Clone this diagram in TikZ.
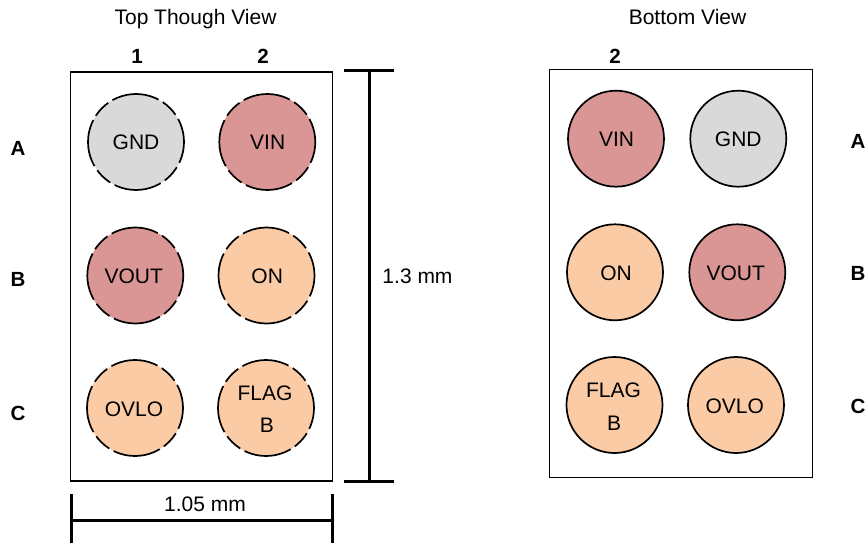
\documentclass[tikz,border=0pt]{standalone}
\usepackage{fontspec}
\setmainfont{Liberation Sans}
\definecolor{pinred}{HTML}{D99694}
\definecolor{pinorange}{HTML}{FACBA5}
\definecolor{pingray}{HTML}{D9D9D9}
% text inside a pin: centre offset dx, baseline offset dy (pt) from the pin centre
\newcommand{\pintxt}[3]{\raisebox{#2pt}[0pt][0pt]{\makebox[0pt]{\hspace{#1pt}\hspace{#1pt}#3}}}
\tikzset{
  x=1pt,y=-1pt,
  pkg/.style={draw=black,line width=1.4pt,fill=white},
  pinbase/.style={circle,draw=black,line width=1.7pt,minimum size=96pt,inner sep=0pt,font=\fontsize{21}{24}\selectfont},
  toppin/.style={pinbase,dash pattern=on 48pt off 5pt on 18pt off 5pt,dash phase=24pt},
  botpin/.style={pinbase},
  redpin/.style={fill=pinred},
  orangepin/.style={fill=pinorange},
  graypin/.style={fill=pingray},
  lbl/.style={inner sep=0pt,anchor=base,font=\fontsize{21}{24}\selectfont},
  blbl/.style={inner sep=0pt,anchor=base,font=\fontsize{20.5}{24}\selectfont\bfseries},
  dimline/.style={draw=black,line width=3pt},
}
\begin{document}
\begin{tikzpicture}
\useasboundingbox (0,0) rectangle (868,543);
% packages
\node[pkg,minimum width=262pt,minimum height=409pt,inner sep=0pt] (topbox) at (201.5,276.5) {};
\node[pkg,minimum width=262.6pt,minimum height=408.2pt,inner sep=0pt] (botbox) at (681,273.4) {};
% top view pins
\node[toppin,graypin] (t1) at (136,142) {\pintxt{0}{-8}{GND}};
\node[toppin,redpin] (t2) at (267.3,142) {\pintxt{0.4}{-8}{VIN}};
\node[toppin,redpin] (t3) at (135.3,275.5) {\pintxt{-1.6}{-8}{VOUT}};
\node[toppin,orangepin] (t4) at (266.5,275.5) {\pintxt{0.7}{-8}{ON}};
\node[toppin,orangepin] (t5) at (135,408) {\pintxt{-1}{-8}{OVLO}};
\node[toppin,orangepin] (t6) at (266,408) {\pintxt{-1}{8}{FLAG}};
\node[lbl] (t6b) at (267,432.7) {B};
% bottom view pins
\node[botpin,redpin] (b1) at (616,138.7) {\pintxt{0.5}{-8}{VIN}};
\node[botpin,graypin] (b2) at (738.3,138.7) {\pintxt{0}{-8}{GND}};
\node[botpin,orangepin] (b3) at (615,272.3) {\pintxt{1}{-8}{ON}};
\node[botpin,redpin] (b4) at (737.3,272.3) {\pintxt{-1.6}{-8}{VOUT}};
\node[botpin,orangepin] (b5) at (614.5,405) {\pintxt{-1}{8}{FLAG}};
\node[botpin,orangepin] (b6) at (736,405) {\pintxt{-1.2}{-8.5}{OVLO}};
\node[lbl] (b5b) at (614,430) {B};
% titles
\node[lbl] (ttop) at (195.5,24.5) {Top Though View};
\node[lbl] (tbot) at (687.5,24.5) {Bottom View};
% grid labels
\node[blbl] (c1) at (137,64) {1};
\node[blbl] (c2) at (263,64) {2};
\node[blbl] (c3) at (615,64) {2};
\node[blbl] (ra) at (18,155) {A};
\node[blbl] (rb) at (18,286) {B};
\node[blbl] (rc) at (18,420) {C};
\node[blbl] (sa) at (858,148) {A};
\node[blbl] (sb) at (858,280) {B};
\node[blbl] (sc) at (858,413) {C};
% dimensions
\coordinate (vt1) at (344,71); \coordinate (vt2) at (394,71);
\coordinate (vb1) at (344,481); \coordinate (vb2) at (394,481);
\coordinate (vtm) at (369,71); \coordinate (vbm) at (369,481);
\draw[dimline] (vt1) -- (vt2);
\draw[dimline] (vb1) -- (vb2);
\draw[dimline] (vtm) -- (vbm);
\coordinate (hl1) at (71,494); \coordinate (hl2) at (71,543);
\coordinate (hr1) at (332.5,494); \coordinate (hr2) at (332.5,543);
\coordinate (hlm) at (71,520); \coordinate (hrm) at (332.5,520);
\draw[dimline] (hl1) -- (hl2);
\draw[dimline] (hr1) -- (hr2);
\draw[dimline] (hlm) -- (hrm);
\node[lbl] (d13) at (417.5,283) {1.3 mm};
\node[lbl] (d105) at (205,511) {1.05 mm};
\end{tikzpicture}
\end{document}
